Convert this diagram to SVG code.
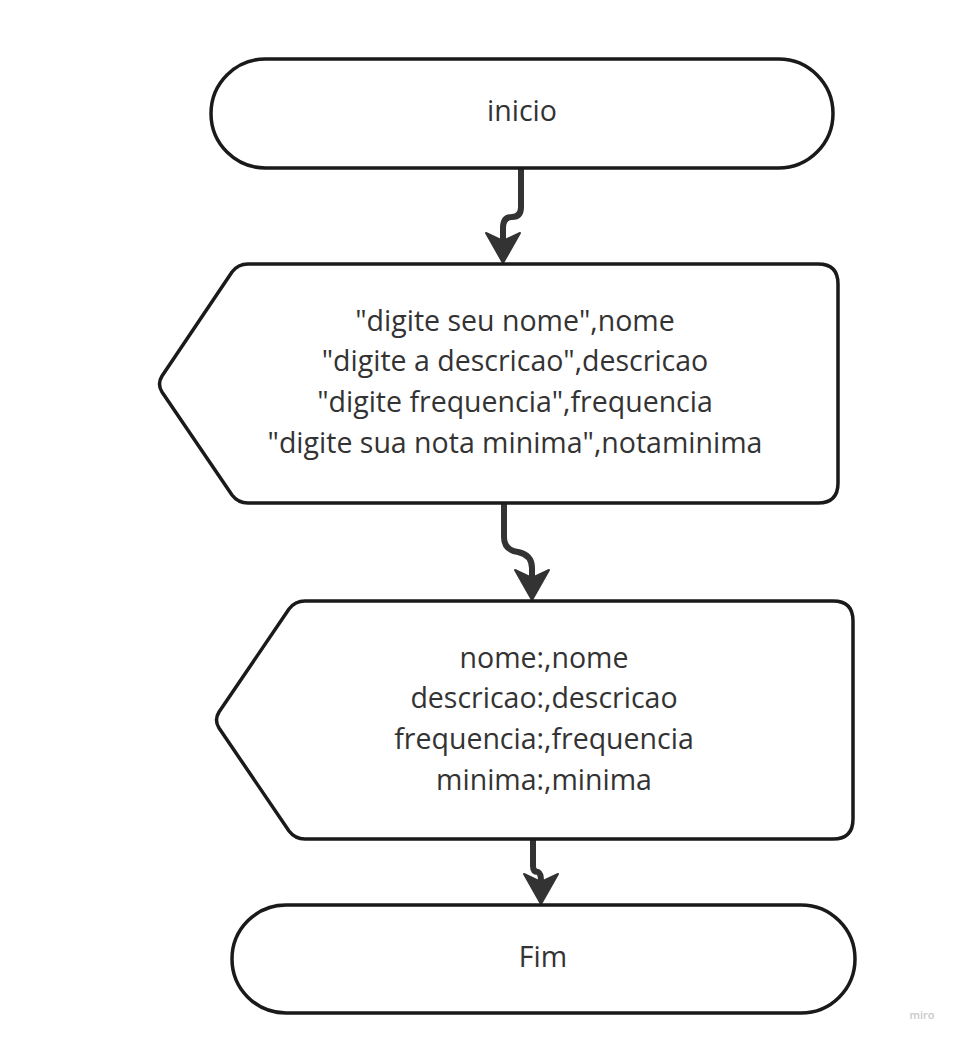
<svg xmlns="http://www.w3.org/2000/svg" width="959" height="1042" viewBox="0 0 959 1042">
<style>
.shape{fill:#ffffff;stroke:#1a1a1a;stroke-width:3.5;stroke-linejoin:round}
.lbl{font-family:"Open Sans","Liberation Sans",sans-serif;font-size:28.5px;fill:#333333;text-anchor:middle}
.conn{fill:none;stroke:#333333;stroke-width:6;stroke-linecap:round;stroke-linejoin:round}
.head{fill:#333333;stroke:#333333;stroke-width:2;stroke-linejoin:round}
</style>
<rect width="959" height="1042" fill="#ffffff"/>
<g id="connectors">
<path class="conn" d="M521,170 V207 Q521,217 512,217 Q503,217 503,228 V245"/>
<path class="head" d="M503,263 L486,233 L503,241 L520,233 Z"/>
<path class="conn" d="M504,505 V537 Q504,550 518,552 Q532,555 532,568 V582"/>
<path class="head" d="M532,600 L515,570 L532,578 L549,570 Z"/>
<path class="conn" d="M533,841 V866 Q533,872 538,872 Q541,874 541,880"/>
<path class="head" d="M541,904 L524,874 L541,882 L558,874 Z"/>
</g>
<g id="start">
<rect class="shape" x="211" y="59" width="622" height="109" rx="54.5" ry="54.5"/>
<text class="lbl" x="522" y="121">inicio</text>
</g>
<g id="input">
<path class="shape" d="M248,264 H818 Q838,264 838,284 V483 Q838,503 818,503 H248 Q238,503 232,495 L162,392 Q157,384 162,376 L232,272 Q238,264 248,264 Z"/>
<text class="lbl" x="515" y="331">"digite seu nome",nome</text>
<text class="lbl" x="515" y="371">"digite a descricao",descricao</text>
<text class="lbl" x="515" y="412">"digite frequencia",frequencia</text>
<text class="lbl" x="515" y="453">"digite sua nota minima",notaminima</text>
</g>
<g id="output">
<path class="shape" d="M305,601 H833 Q853,601 853,621 V819 Q853,839 833,839 H305 Q295,839 289,831 L219,728 Q214,720 219,712 L289,609 Q295,601 305,601 Z"/>
<text class="lbl" x="544" y="668">nome:,nome</text>
<text class="lbl" x="544" y="708">descricao:,descricao</text>
<text class="lbl" x="544" y="749">frequencia:,frequencia</text>
<text class="lbl" x="544" y="790">minima:,minima</text>
</g>
<g id="end">
<rect class="shape" x="232" y="905" width="623" height="108" rx="54" ry="54"/>
<text class="lbl" x="543" y="967">Fim</text>
</g>
<text x="922" y="1019" font-family="'Open Sans','Liberation Sans',sans-serif" font-size="11" fill="#c8c8c8" text-anchor="middle" font-weight="600">miro</text>
</svg>
